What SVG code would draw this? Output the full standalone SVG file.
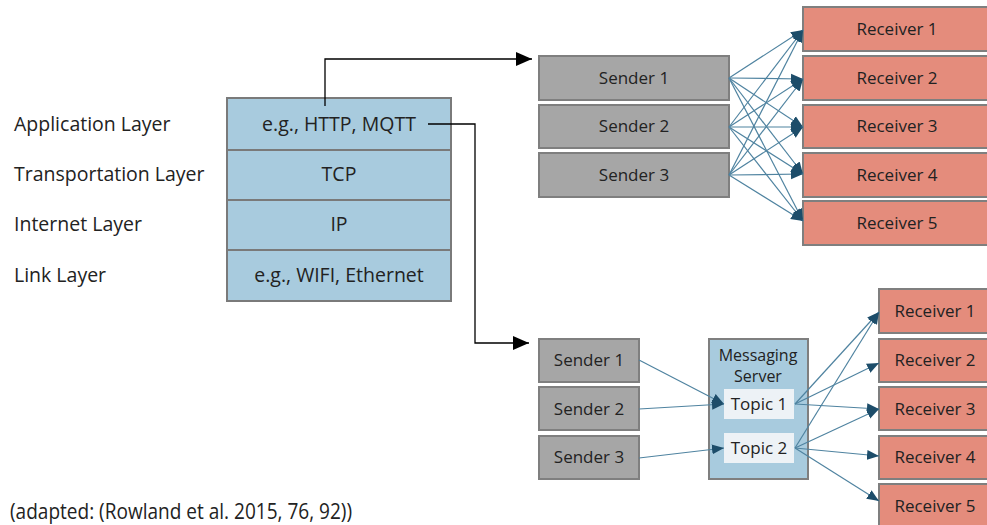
<svg xmlns="http://www.w3.org/2000/svg" width="987" height="525" viewBox="0 0 987 525">
<defs>
<style>
text{font-family:"Open Sans","Noto Sans","DejaVu Sans",sans-serif;fill:#222;}
.lbl{font-size:19.5px;}
.layer{fill:#a8cbde;stroke:#7a7a7a;stroke-width:2;}
.in{font-size:19.5px;text-anchor:middle;}
.snd{fill:#a6a6a6;stroke:#7f7f7f;stroke-width:2;}
.rcv{fill:#e48c7c;stroke:#7f7f7f;stroke-width:2;}
.bt{font-size:17px;text-anchor:middle;}
.st{font-size:16px;text-anchor:middle;}
.srv{fill:#a8cbde;stroke:#7f7f7f;stroke-width:2;}
.topic{fill:#edf2f6;}
.c{stroke:#4f83a0;stroke-width:1.2;fill:none;marker-end:url(#ah);}
.blk{stroke:#000;stroke-width:1.3;fill:none;marker-end:url(#bh);}
</style>
<marker id="ah" markerUnits="userSpaceOnUse" markerWidth="12" markerHeight="12" viewBox="0 0 12 12" refX="12" refY="6" orient="auto">
<path d="M0,1 L12,6 L0,11 z" fill="#1d4d6a"/>
</marker>
<marker id="bh" markerUnits="userSpaceOnUse" markerWidth="16" markerHeight="16" viewBox="0 0 16 16" refX="16" refY="8" orient="auto">
<path d="M0,1 L16,8 L0,15 z" fill="#000"/>
</marker>
</defs>

<g id="layer-labels">
<text class="lbl" x="14" y="131">Application Layer</text>
<text class="lbl" x="14" y="181">Transportation Layer</text>
<text class="lbl" x="14" y="231">Internet Layer</text>
<text class="lbl" x="14" y="282">Link Layer</text>
</g>

<g id="stack">
<rect class="layer" x="227" y="98" width="224" height="52"/>
<rect class="layer" x="227" y="150" width="224" height="50"/>
<rect class="layer" x="227" y="200" width="224" height="50"/>
<rect class="layer" x="227" y="250" width="224" height="51"/>
<text class="in" x="339" y="131">e.g., HTTP, MQTT</text>
<text class="in" x="339" y="181">TCP</text>
<text class="in" x="339" y="231">IP</text>
<text class="in" x="339" y="282">e.g., WIFI, Ethernet</text>
</g>

<g id="top-sender-1"><rect class="snd" x="539" y="56" width="190" height="44"/><text class="bt" x="634" y="84">Sender 1</text></g>
<g id="top-sender-2"><rect class="snd" x="539" y="105" width="190" height="43"/><text class="bt" x="634" y="132">Sender 2</text></g>
<g id="top-sender-3"><rect class="snd" x="539" y="153" width="190" height="44"/><text class="bt" x="634" y="181">Sender 3</text></g>

<g id="top-receiver-1"><rect class="rcv" x="803" y="7" width="190" height="44"/><text class="bt" x="897" y="35">Receiver 1</text></g>
<g id="top-receiver-2"><rect class="rcv" x="803" y="56" width="190" height="44"/><text class="bt" x="897" y="84">Receiver 2</text></g>
<g id="top-receiver-3"><rect class="rcv" x="803" y="105" width="190" height="43"/><text class="bt" x="897" y="132">Receiver 3</text></g>
<g id="top-receiver-4"><rect class="rcv" x="803" y="153" width="190" height="44"/><text class="bt" x="897" y="181">Receiver 4</text></g>
<g id="top-receiver-5"><rect class="rcv" x="803" y="201" width="190" height="44"/><text class="bt" x="897" y="229">Receiver 5</text></g>

<g id="bottom-sender-1"><rect class="snd" x="539" y="339" width="100" height="43"/><text class="bt" x="589" y="366">Sender 1</text></g>
<g id="bottom-sender-2"><rect class="snd" x="539" y="387" width="100" height="43"/><text class="bt" x="589" y="415">Sender 2</text></g>
<g id="bottom-sender-3"><rect class="snd" x="539" y="436" width="100" height="43"/><text class="bt" x="589" y="463">Sender 3</text></g>

<g id="messaging-server">
<rect class="srv" x="709" y="339" width="99" height="140"/>
<text class="st" x="758" y="361">Messaging</text>
<text class="st" x="758" y="382">Server</text>
</g>
<g id="topic-1"><rect class="topic" x="724" y="389" width="70" height="30"/><text class="bt" x="759" y="410">Topic 1</text></g>
<g id="topic-2"><rect class="topic" x="724" y="433" width="70" height="30"/><text class="bt" x="759" y="454">Topic 2</text></g>

<g id="bottom-receiver-1"><rect class="rcv" x="879" y="289" width="112" height="44"/><text class="bt" x="935" y="317">Receiver 1</text></g>
<g id="bottom-receiver-2"><rect class="rcv" x="879" y="339" width="112" height="43"/><text class="bt" x="935" y="366">Receiver 2</text></g>
<g id="bottom-receiver-3"><rect class="rcv" x="879" y="387" width="112" height="43"/><text class="bt" x="935" y="415">Receiver 3</text></g>
<g id="bottom-receiver-4"><rect class="rcv" x="879" y="436" width="112" height="43"/><text class="bt" x="935" y="463">Receiver 4</text></g>
<g id="bottom-receiver-5"><rect class="rcv" x="879" y="484" width="112" height="44"/><text class="bt" x="935" y="512">Receiver 5</text></g>

<g id="connectors">
<polyline class="blk" points="325,106 325,59 532,59"/>
<polyline class="blk" points="428,124 475,124 475,343 529,343"/>
<g id="p2p-lines">
<line class="c" x1="729" y1="78" x2="803" y2="30"/>
<line class="c" x1="729" y1="78" x2="803" y2="79"/>
<line class="c" x1="729" y1="78" x2="803" y2="127"/>
<line class="c" x1="729" y1="78" x2="803" y2="174"/>
<line class="c" x1="729" y1="78" x2="803" y2="221"/>
<line class="c" x1="729" y1="127" x2="803" y2="30"/>
<line class="c" x1="729" y1="127" x2="803" y2="79"/>
<line class="c" x1="729" y1="127" x2="803" y2="127"/>
<line class="c" x1="729" y1="127" x2="803" y2="174"/>
<line class="c" x1="729" y1="127" x2="803" y2="221"/>
<line class="c" x1="729" y1="175" x2="803" y2="30"/>
<line class="c" x1="729" y1="175" x2="803" y2="79"/>
<line class="c" x1="729" y1="175" x2="803" y2="127"/>
<line class="c" x1="729" y1="175" x2="803" y2="174"/>
<line class="c" x1="729" y1="175" x2="803" y2="221"/>
</g>
<g id="pubsub-lines">
<line class="c" x1="639" y1="360" x2="724" y2="404"/>
<line class="c" x1="639" y1="409" x2="724" y2="404"/>
<line class="c" x1="639" y1="458" x2="724" y2="448"/>
<line class="c" x1="795" y1="404" x2="879" y2="312"/>
<line class="c" x1="795" y1="404" x2="879" y2="363"/>
<line class="c" x1="795" y1="404" x2="879" y2="409"/>
<line class="c" x1="795" y1="448" x2="879" y2="312"/>
<line class="c" x1="795" y1="448" x2="879" y2="409"/>
<line class="c" x1="795" y1="448" x2="879" y2="456"/>
<line class="c" x1="795" y1="448" x2="879" y2="501"/>
</g>
</g>

<text x="10" y="519" style="font-size:21px" textLength="342" lengthAdjust="spacingAndGlyphs">(adapted: (Rowland et al. 2015, 76, 92))</text>
</svg>
